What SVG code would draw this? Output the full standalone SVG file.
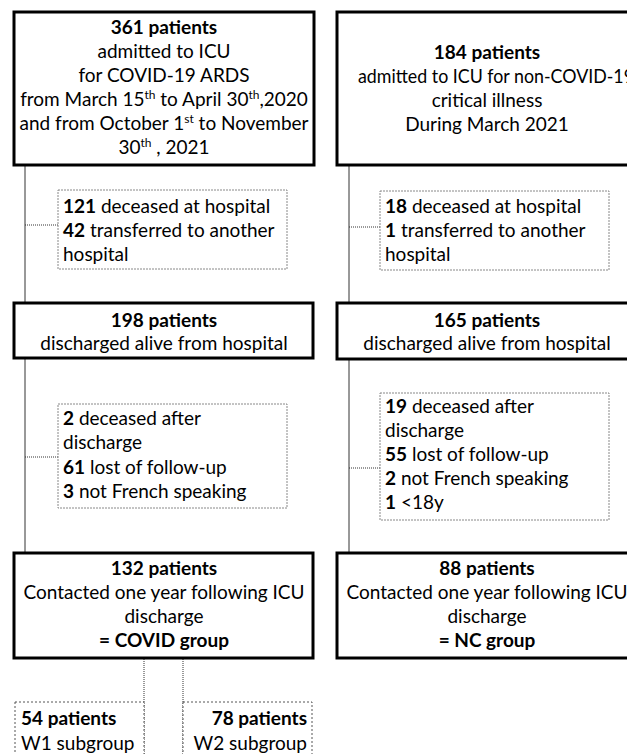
<svg xmlns="http://www.w3.org/2000/svg" width="627" height="754" viewBox="0 0 627 754">
<style>
text{font-family:Lato,"Liberation Sans",sans-serif;font-size:19px;fill:#000}
.c{text-anchor:middle}
.r{text-anchor:end}
.b{font-weight:bold}
.main{fill:#fff;stroke:#000;stroke-width:3}
.ex{fill:#fff;stroke:#888;stroke-width:1;stroke-dasharray:2 1}
.sub{fill:#fff;stroke:#555;stroke-width:1;stroke-dasharray:2 2}
.sol{stroke:#333;stroke-width:1;fill:none}
.dot{stroke:#333;stroke-width:1;fill:none;stroke-dasharray:1 1}
.sup{font-size:12px}
</style>
<rect width="627" height="754" fill="#fff"/>
<g id="connectors">
<line class="sol" x1="25" y1="166" x2="25" y2="302"/>
<line class="sol" x1="349" y1="166" x2="349" y2="302"/>
<line class="dot" x1="25" y1="225" x2="58" y2="225"/>
<line class="dot" x1="349" y1="227" x2="380" y2="227"/>
<line class="sol" x1="25" y1="359" x2="25" y2="552"/>
<line class="sol" x1="349" y1="359" x2="349" y2="552"/>
<line class="dot" x1="25" y1="457" x2="58" y2="457"/>
<line class="dot" x1="349" y1="468" x2="380" y2="468"/>
<line class="dot" x1="144" y1="659" x2="144" y2="754"/>
<line class="dot" x1="183" y1="659" x2="183" y2="754"/>
</g>
<g id="covid-admitted">
<rect class="main" x="14" y="12" width="300" height="153"/>
<text class="c b" x="164" y="34">361 patients</text>
<text class="c" x="164" y="58">admitted to ICU</text>
<text class="c" x="164" y="82">for COVID-19 ARDS</text>
<text class="c" x="164" y="106">from March 15<tspan class="sup" dy="-7">th</tspan><tspan dy="7"> to April 30</tspan><tspan class="sup" dy="-7">th</tspan><tspan dy="7">,2020</tspan></text>
<text class="c" x="164" y="130">and from October 1<tspan class="sup" dy="-7">st</tspan><tspan dy="7"> to November</tspan></text>
<text class="c" x="164" y="154">30<tspan class="sup" dy="-7">th</tspan><tspan dy="7"> , 2021</tspan></text>
</g>
<g id="nc-admitted">
<rect class="main" x="337" y="12" width="300" height="153"/>
<text class="c b" x="487" y="59">184 patients</text>
<text x="358" y="83" textLength="276" lengthAdjust="spacingAndGlyphs">admitted to ICU for non-COVID-19</text>
<text class="c" x="487" y="107">critical illness</text>
<text class="c" x="487" y="131">During March 2021</text>
</g>
<g id="covid-excl1">
<rect class="ex" x="58" y="190" width="229" height="79"/>
<text x="63" y="213"><tspan class="b">121</tspan> deceased at hospital</text>
<text x="63" y="237"><tspan class="b">42</tspan> transferred to another</text>
<text x="63" y="261">hospital</text>
</g>
<g id="nc-excl1">
<rect class="ex" x="380" y="191" width="229" height="79"/>
<text x="385" y="213"><tspan class="b">18</tspan> deceased at hospital</text>
<text x="385" y="237"><tspan class="b">1</tspan> transferred to another</text>
<text x="385" y="261">hospital</text>
</g>
<g id="covid-discharged">
<rect class="main" x="14" y="303" width="299" height="55"/>
<text class="c b" x="164" y="327">198 patients</text>
<text class="c" x="164" y="350">discharged alive from hospital</text>
</g>
<g id="nc-discharged">
<rect class="main" x="337" y="303" width="300" height="56"/>
<text class="c b" x="487" y="327">165 patients</text>
<text class="c" x="487" y="350">discharged alive from hospital</text>
</g>
<g id="covid-excl2">
<rect class="ex" x="58" y="404" width="229" height="104"/>
<text x="63" y="425"><tspan class="b">2</tspan> deceased after</text>
<text x="63" y="449">discharge</text>
<text x="63" y="474"><tspan class="b">61</tspan> lost of follow-up</text>
<text x="63" y="498"><tspan class="b">3</tspan> not French speaking</text>
</g>
<g id="nc-excl2">
<rect class="ex" x="380" y="393" width="229" height="127"/>
<text x="385" y="413"><tspan class="b">19</tspan> deceased after</text>
<text x="385" y="437">discharge</text>
<text x="385" y="461"><tspan class="b">55</tspan> lost of follow-up</text>
<text x="385" y="485"><tspan class="b">2</tspan> not French speaking</text>
<text x="385" y="509"><tspan class="b">1</tspan> &lt;18y</text>
</g>
<g id="covid-group">
<rect class="main" x="14" y="553" width="299" height="105"/>
<text class="c b" x="164" y="575">132 patients</text>
<text class="c" x="164" y="599">Contacted one year following ICU</text>
<text class="c" x="164" y="623">discharge</text>
<text class="c b" x="164" y="647">= COVID group</text>
</g>
<g id="nc-group">
<rect class="main" x="337" y="553" width="300" height="105"/>
<text class="c b" x="487" y="575">88 patients</text>
<text class="c" x="487" y="599">Contacted one year following ICU</text>
<text class="c" x="487" y="623">discharge</text>
<text class="c b" x="487" y="647">= NC group</text>
</g>
<g id="w1">
<rect class="sub" x="15" y="702" width="129" height="60"/>
<text class="b" x="21" y="725">54 patients</text>
<text x="21" y="750">W1 subgroup</text>
</g>
<g id="w2">
<rect class="sub" x="183" y="702" width="129" height="60"/>
<text class="r b" x="307" y="725">78 patients</text>
<text class="r" x="307" y="750">W2 subgroup</text>
</g>
</svg>
